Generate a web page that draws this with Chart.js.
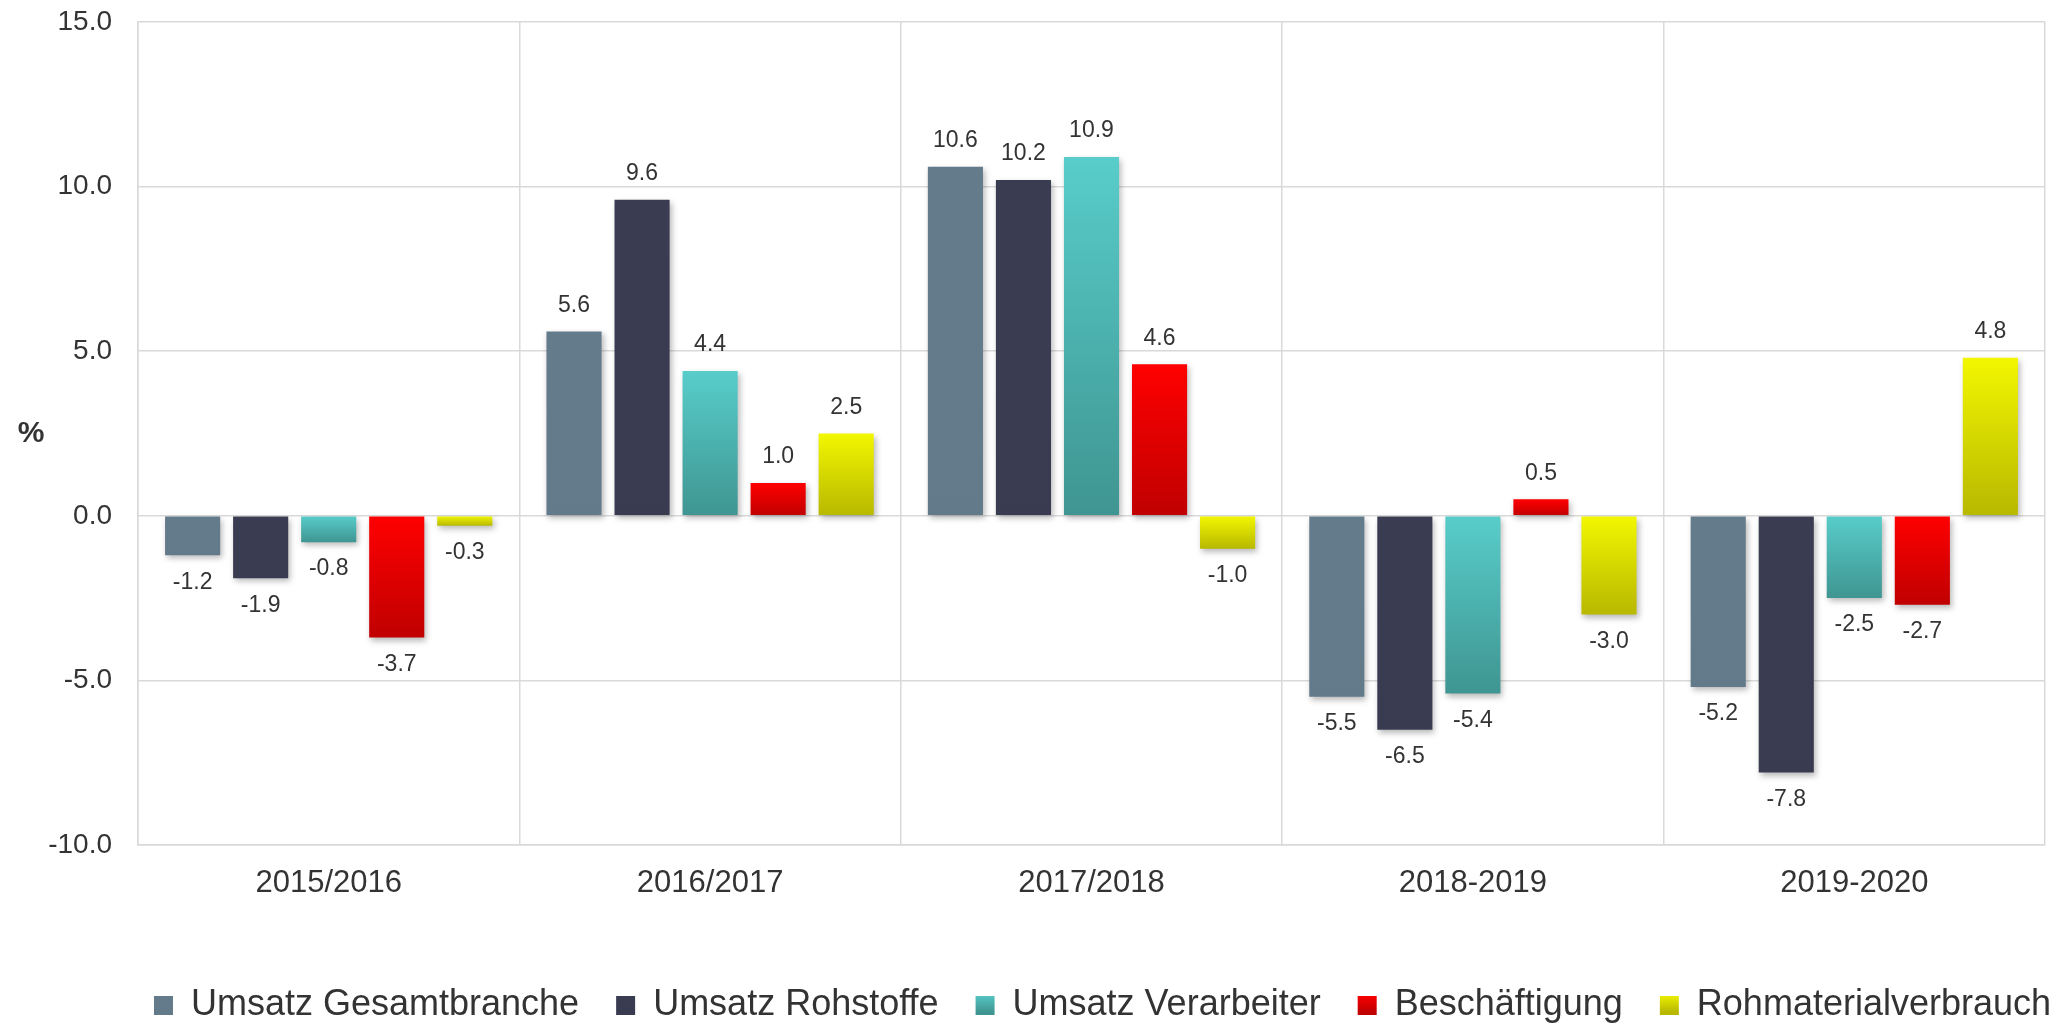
<!DOCTYPE html>
<html>
<head>
<meta charset="utf-8">
<script src="https://cdn.jsdelivr.net/npm/chart.js@4"></script>
<style>
  html, body { margin: 0; padding: 0; background: #fff; }
</style>
</head>
<body>
<canvas id="chart" width="2057" height="1023"></canvas>
<script>
// Daten
const categories = ["2015/2016", "2016/2017", "2017/2018", "2018-2019", "2019-2020"];
const seriesNames = ["Umsatz Gesamtbranche", "Umsatz Rohstoffe", "Umsatz Verarbeiter", "Beschäftigung", "Rohmaterialverbrauch"];
const gesamtbranche = [-1.2, 5.6, 10.6, -5.5, -5.2];
const rohstoffe = [-1.9, 9.6, 10.2, -6.5, -7.8];
const verarbeiter = [-0.8, 4.4, 10.9, -5.4, -2.5];
const beschaeftigung = [-3.7, 1.0, 4.6, 0.5, -2.7];
const rohmaterial = [-0.3, 2.5, -1.0, -3.0, 4.8];
const yTicks = [-10, -5, 0, 5, 10, 15];
const yUnit = "%";

// Farben: oben / unten (Verlauf pro Balken)
const seriesColors = [
    ["#647b8b", "#637a8a"],
    ["#3a3c51", "#393b50"],
    ["#58cdca", "#3f9591"],
    ["#ff0000", "#c00000"],
    ["#f2f700", "#b8b800"]
];

const FONT = "'Liberation Sans', Arial, sans-serif";
const TEXT = "#333333";
const GRID = "#d9d9d9";

function barGradient(colors) {
    return function(context) {
        const chart = context.chart;
        const y = chart.scales.y;
        if (!chart.chartArea || !y || !context.parsed) return colors[0];
        const p1 = y.getPixelForValue(context.parsed.y);
        const p0 = y.getPixelForValue(0);
        if (!isFinite(p1) || !isFinite(p0) || Math.abs(p1 - p0) < 1) return colors[0];
        const g = chart.ctx.createLinearGradient(0, Math.min(p0, p1), 0, Math.max(p0, p1));
        g.addColorStop(0, colors[0]);
        g.addColorStop(1, colors[1]);
        return g;
    };
}

const values = [gesamtbranche, rohstoffe, verarbeiter, beschaeftigung, rohmaterial];

// Schatten, Werte-Beschriftung und "%"-Label
const decorations = {
    id: "decorations",
    afterLayout(chart) {
        // Legende etwas nach rechts schieben (wie im Original)
        chart.legend.left += 80;
        chart.legend.right += 80;
    },
    beforeDatasetsDraw(chart) {
        const ctx = chart.ctx;
        ctx.save();
        ctx.shadowColor = "rgba(0,0,0,0.28)";
        ctx.shadowBlur = 6;
        ctx.shadowOffsetX = 2;
        ctx.shadowOffsetY = 3;
    },
    afterDatasetsDraw(chart) {
        const ctx = chart.ctx;
        ctx.restore();
        ctx.save();
        ctx.font = "23px " + FONT;
        ctx.fillStyle = TEXT;
        ctx.textAlign = "center";
        ctx.textBaseline = "middle";
        chart.data.datasets.forEach((ds, i) => {
            const meta = chart.getDatasetMeta(i);
            meta.data.forEach((bar, j) => {
                const v = ds.data[j];
                const y = v >= 0 ? bar.y - 26 : bar.y + 27;
                ctx.fillText(v.toFixed(1), bar.x, y);
            });
        });
        ctx.restore();
    },
    afterDraw(chart) {
        const ctx = chart.ctx;
        const area = chart.chartArea;
        ctx.save();
        ctx.font = "bold 30px " + FONT;
        ctx.fillStyle = TEXT;
        ctx.textAlign = "center";
        ctx.textBaseline = "middle";
        ctx.fillText(yUnit, 31, (area.top + area.bottom) / 2);
        ctx.restore();
    }
};

const ctx = document.getElementById("chart").getContext("2d");

new Chart(ctx, {
    type: "bar",
    data: {
        labels: categories,
        datasets: values.map((data, i) => ({
            label: seriesNames[i],
            data: data,
            backgroundColor: barGradient(seriesColors[i]),
            borderWidth: 0,
            categoryPercentage: 0.892,
            barPercentage: 0.81
        }))
    },
    options: {
        responsive: false,
        animation: false,
        layout: {
            padding: { top: 22, right: 12, left: 0, bottom: 0 }
        },
        plugins: {
            tooltip: { enabled: false },
            legend: {
                position: "bottom",
                align: "center",
                maxHeight: 72.5,
                labels: {
                    font: { family: FONT, size: 36 },
                    color: TEXT,
                    boxWidth: 19,
                    boxHeight: 19,
                    padding: 37,
                    generateLabels(chart) {
                        return chart.data.datasets.map((ds, i) => {
                            const g = chart.ctx.createLinearGradient(0, chart.height - 30, 0, chart.height - 11);
                            g.addColorStop(0, seriesColors[i][0]);
                            g.addColorStop(1, seriesColors[i][1]);
                            return {
                                text: ds.label,
                                fillStyle: g,
                                strokeStyle: "rgba(0,0,0,0)",
                                lineWidth: 0,
                                hidden: false,
                                datasetIndex: i,
                                fontColor: TEXT
                            };
                        });
                    }
                }
            }
        },
        scales: {
            x: {
                grid: { color: GRID, lineWidth: 1.5, drawTicks: false, offset: true },
                border: { color: GRID, width: 1.5 },
                ticks: {
                    font: { family: FONT, size: 31 },
                    color: TEXT,
                    padding: 20
                },
                afterFit(scale) {
                    scale.height = 105.5;
                }
            },
            y: {
                min: -10,
                max: 15,
                grid: { color: GRID, lineWidth: 1.5, drawTicks: false },
                border: { color: GRID, width: 1.5 },
                ticks: {
                    font: { family: FONT, size: 28 },
                    color: TEXT,
                    padding: 26,
                    callback: (v) => Number(v).toFixed(1)
                },
                afterBuildTicks(scale) {
                    scale.ticks = yTicks.map(v => ({ value: v }));
                },
                afterFit(scale) {
                    scale.width = 138;
                    scale.paddingTop = 0;
                    scale.paddingBottom = 0;
                }
            }
        }
    },
    plugins: [decorations]
});
</script>
</body>
</html>
